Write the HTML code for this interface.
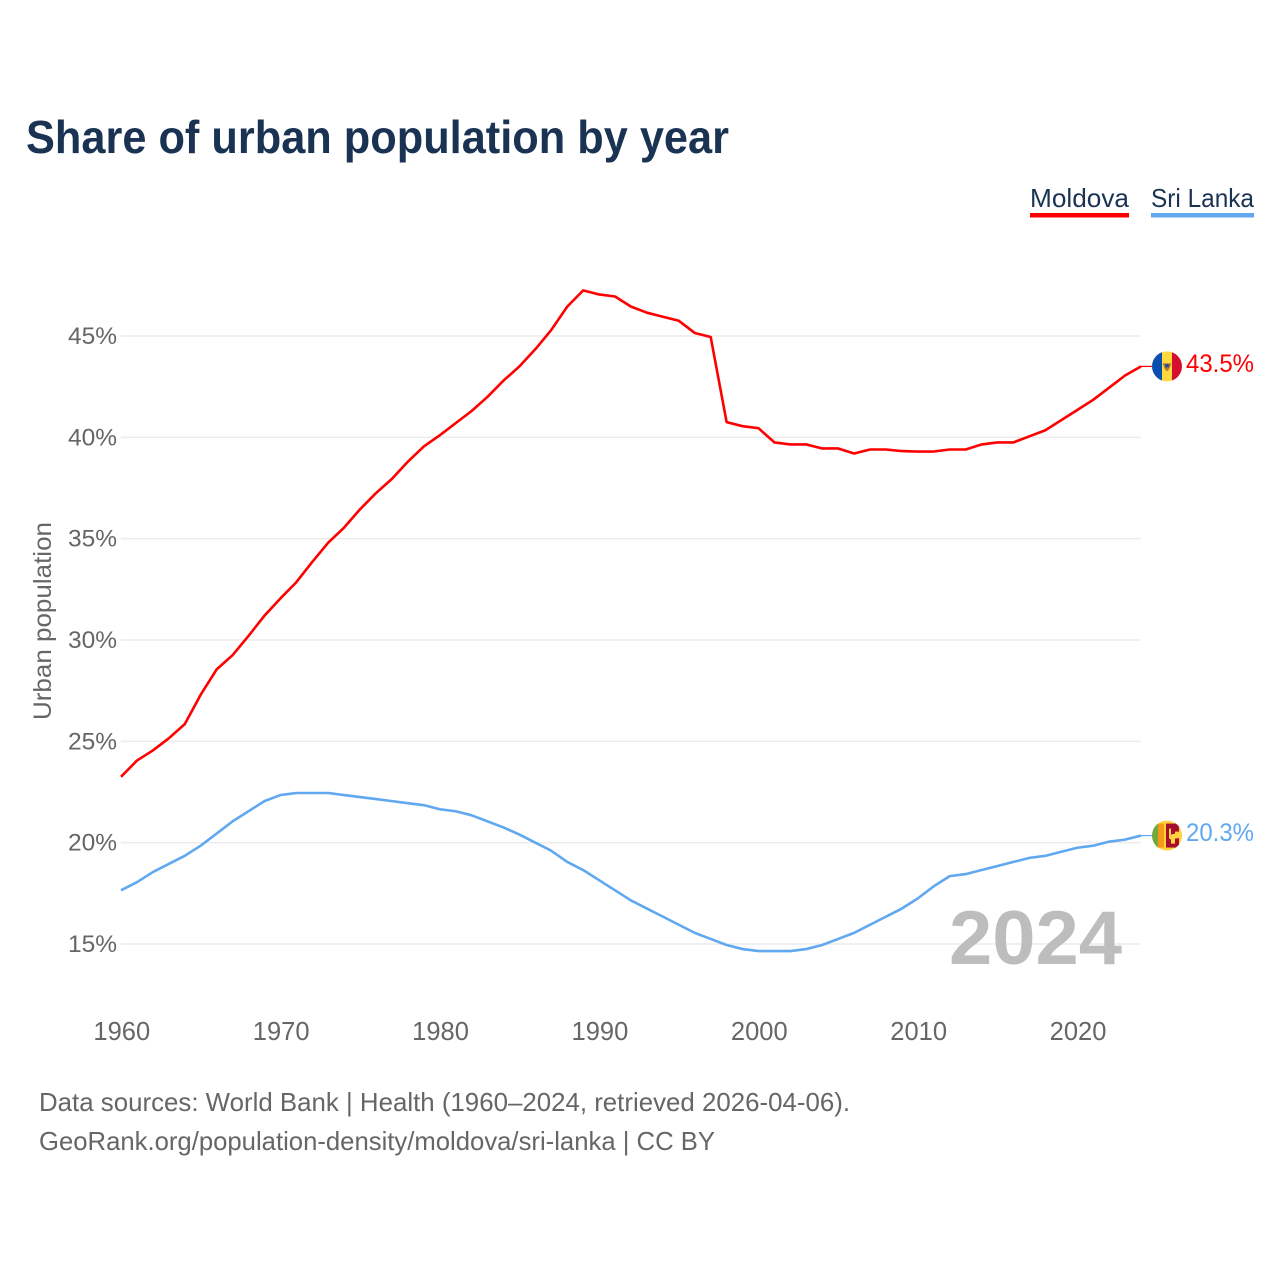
<!DOCTYPE html>
<html lang="en">
<head>
<meta charset="utf-8">
<title>Share of urban population by year</title>
<style>
  html, body { margin: 0; padding: 0; background: #fff; }
  svg { display: block; font-family: "Liberation Sans", sans-serif; }
</style>
</head>
<body>
<svg id="chart" xmlns="http://www.w3.org/2000/svg" width="1280" height="1280" viewBox="0 0 1280 1280">
  <rect width="1280" height="1280" fill="#ffffff"/>
  <text x="26" y="153" font-size="46" font-weight="700" fill="#1a3353" textLength="703" lengthAdjust="spacingAndGlyphs">Share of urban population by year</text>

  <g>
    <g>
      <text x="1030" y="207" font-size="26" fill="#1a3353" textLength="99" lengthAdjust="spacingAndGlyphs">Moldova</text>
      <rect x="1030" y="213" width="99" height="4.5" fill="#ff0000"/>
    </g>
    <g>
      <text x="1151" y="207" font-size="26" fill="#1a3353" textLength="103" lengthAdjust="spacingAndGlyphs">Sri Lanka</text>
      <rect x="1151" y="213" width="103" height="4.5" fill="#60a8ef"/>
    </g>
  </g>

  <text transform="translate(51,621) rotate(-90)" text-anchor="middle" font-size="25" fill="#666666" textLength="198" lengthAdjust="spacingAndGlyphs">Urban population</text>

  <g id="grid"></g>
  <g id="yticks"></g>
  <g id="xticks"></g>

  <text x="949" y="964" font-size="76" font-weight="700" fill="#bdbdbd" textLength="173" lengthAdjust="spacingAndGlyphs">2024</text>

  <g id="series"></g>

  <defs>
    <clipPath id="clip-md"><circle id="clip-md-c" r="15"/></clipPath>
    <clipPath id="clip-lk"><circle id="clip-lk-c" r="15"/></clipPath>
  </defs>

  <g id="flag-md" clip-path="url(#clip-md)">
    <rect x="-15" y="-15" width="10" height="30" fill="#0a4fae"/>
    <rect x="-5" y="-15" width="10" height="30" fill="#ffd83d"/>
    <rect x="5" y="-15" width="10" height="30" fill="#d5102f"/>
    <path d="M-4.5 -3 L4.5 -3 L2 3 L0 5 L-2 3 Z" fill="#b07a30"/>
    <rect x="-1.8" y="-2.5" width="3.6" height="3.5" fill="#2b4c9b"/>
  </g>
  <g id="flag-lk" clip-path="url(#clip-lk)">
    <rect x="-15" y="-15" width="30" height="30" fill="#ffd23f"/>
    <rect x="-15" y="-12" width="6" height="24" fill="#72a83e"/>
    <rect x="-9" y="-12" width="6" height="24" fill="#f59a16"/>
    <rect x="-1" y="-12" width="13" height="24" fill="#a50e2d"/>
    <path d="M2 -7 L4 -7 L4 -1 L8 -2 L8 -4 L15 -4 L15 2 L8 3 L8 8 L4 8 L4 4 L2 3 Z" fill="#ffd23f"/>
  </g>

  <text id="label-md" x="1186" y="372" font-size="25" fill="#ff0000" textLength="68" lengthAdjust="spacingAndGlyphs"></text>
  <text id="label-lk" x="1186" y="842" font-size="25" fill="#60a8ef" textLength="68" lengthAdjust="spacingAndGlyphs"></text>

  <text x="39" y="1111" font-size="26" fill="#666666" textLength="811" lengthAdjust="spacingAndGlyphs">Data sources: World Bank | Health (1960–2024, retrieved 2026-04-06).</text>
  <text x="39" y="1150" font-size="26" fill="#666666" textLength="676" lengthAdjust="spacingAndGlyphs">GeoRank.org/population-density/moldova/sri-lanka | CC BY</text>
</svg>

<script>
const startYear = 1960;
const endYear = 2024;
const yTickValues = [15, 20, 25, 30, 35, 40, 45];
const xTickYears = [1960, 1970, 1980, 1990, 2000, 2010, 2020];
const moldovaValues = [
  23.25, 24.05, 24.55, 25.15, 25.85, 27.3, 28.55, 29.25, 30.2, 31.2,
  32.05, 32.85, 33.85, 34.8, 35.55, 36.45, 37.25, 37.95, 38.8, 39.55,
  40.1, 40.7, 41.3, 42.0, 42.8, 43.5, 44.35, 45.3, 46.45, 47.25,
  47.05, 46.95, 46.45, 46.15, 45.95, 45.75, 45.15, 44.95, 40.75, 40.55,
  40.45, 39.75, 39.65, 39.65, 39.45, 39.45, 39.2, 39.4, 39.4, 39.32,
  39.3, 39.3, 39.4, 39.4, 39.65, 39.75, 39.75, 40.05, 40.35, 40.85,
  41.35, 41.85, 42.45, 43.05, 43.5
];
const sriLankaValues = [
  17.65, 18.05, 18.55, 18.95, 19.35, 19.85, 20.45, 21.05, 21.55, 22.05,
  22.35, 22.45, 22.45, 22.45, 22.35, 22.25, 22.15, 22.05, 21.95, 21.85,
  21.65, 21.55, 21.35, 21.05, 20.75, 20.4, 20.0, 19.6, 19.05, 18.65,
  18.15, 17.65, 17.15, 16.75, 16.35, 15.95, 15.55, 15.25, 14.95, 14.75,
  14.65, 14.65, 14.65, 14.75, 14.95, 15.25, 15.55, 15.95, 16.35, 16.75,
  17.25, 17.85, 18.35, 18.45, 18.65, 18.85, 19.05, 19.25, 19.35, 19.55,
  19.75, 19.85, 20.05, 20.15, 20.35
];
const moldovaLabel = "43.5%";
const sriLankaLabel = "20.3%";

const SVG_NS = "http://www.w3.org/2000/svg";
function xScale(year) {
  return 121 + (year - startYear) * (1141 - 121) / (endYear - startYear);
}
function yScale(value) {
  return 944 - (value - 15) * (944 - 336) / 30;
}
function linePath(values) {
  return values.map(function (v, i) {
    return (i ? "L" : "M") + xScale(startYear + i).toFixed(2) + " " + yScale(v).toFixed(2);
  }).join(" ");
}

const gridGroup = document.getElementById("grid");
const yTickGroup = document.getElementById("yticks");
yTickValues.forEach(function (v) {
  const line = document.createElementNS(SVG_NS, "line");
  
  
  line.setAttribute("x1", 121);
  line.setAttribute("x2", 1141);
  line.setAttribute("y1", yScale(v));
  line.setAttribute("y2", yScale(v));
  line.setAttribute("stroke", "#ebebeb");
  line.setAttribute("stroke-width", "1.5");
  gridGroup.appendChild(line);

  const label = document.createElementNS(SVG_NS, "text");
  
  
  label.setAttribute("x", 117);
  label.setAttribute("y", yScale(v) + 8);
  label.setAttribute("text-anchor", "end");
  label.setAttribute("font-size", "24.5");
  label.setAttribute("fill", "#666666");
  label.textContent = v + "%";
  yTickGroup.appendChild(label);
});

const xTickGroup = document.getElementById("xticks");
xTickYears.forEach(function (year) {
  const label = document.createElementNS(SVG_NS, "text");
  
  
  label.setAttribute("x", xScale(year) + 0.8);
  label.setAttribute("y", 1040);
  label.setAttribute("text-anchor", "middle");
  label.setAttribute("font-size", "25.5");
  label.setAttribute("fill", "#666666");
  label.textContent = year;
  xTickGroup.appendChild(label);
});

const seriesGroup = document.getElementById("series");
const moldovaLine = document.createElementNS(SVG_NS, "path");


moldovaLine.setAttribute("d", linePath(moldovaValues));
moldovaLine.setAttribute("fill", "none");
moldovaLine.setAttribute("stroke", "#ff0000");
moldovaLine.setAttribute("stroke-width", "2.6");
moldovaLine.setAttribute("stroke-linejoin", "round");
seriesGroup.appendChild(moldovaLine);

const sriLankaLine = document.createElementNS(SVG_NS, "path");


sriLankaLine.setAttribute("d", linePath(sriLankaValues));
sriLankaLine.setAttribute("fill", "none");
sriLankaLine.setAttribute("stroke", "#60a8ef");
sriLankaLine.setAttribute("stroke-width", "2.6");
sriLankaLine.setAttribute("stroke-linejoin", "round");
seriesGroup.appendChild(sriLankaLine);

function placeEnd(flagId, clipId, labelId, values, text) {
  const last = values[values.length - 1];
  const ey = yScale(last);
  const flag = document.getElementById(flagId);
  flag.setAttribute("transform", "translate(1167," + ey + ")");
  document.getElementById(labelId).setAttribute("y", ey + 5.5);
  document.getElementById(labelId).textContent = text;
  const connector = document.createElementNS(SVG_NS, "line");
  
  
  connector.setAttribute("x1", 1141);
  connector.setAttribute("x2", 1152);
  connector.setAttribute("y1", ey);
  connector.setAttribute("y2", ey);
  connector.setAttribute("stroke", labelId === "label-md" ? "#ff0000" : "#60a8ef");
  connector.setAttribute("stroke-width", "1.2");
  seriesGroup.appendChild(connector);
}
placeEnd("flag-md", "clip-md", "label-md", moldovaValues, moldovaLabel);
placeEnd("flag-lk", "clip-lk", "label-lk", sriLankaValues, sriLankaLabel);
</script>
</body>
</html>
